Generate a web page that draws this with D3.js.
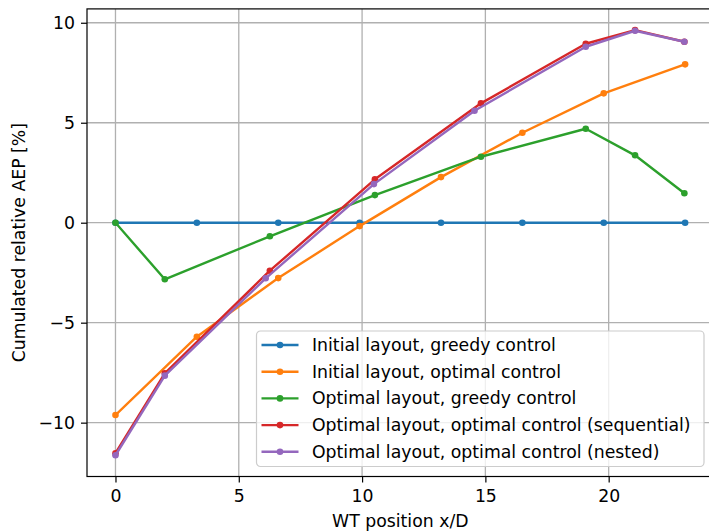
<!DOCTYPE html>
<html>
<head>
<meta charset="utf-8">
<script src="https://cdn.jsdelivr.net/npm/d3@7"></script>
<style>
  body { margin: 0; background: #fff; }
  svg { display: block; font-family: "DejaVu Sans", sans-serif; }
</style>
</head>
<body>
<div id="chart"></div>
<script>
// Series data
const xInitial = [0, 3.3, 6.6, 9.9, 13.2, 16.5, 19.8, 23.1];
const xOptimal = [0, 2.0, 6.26, 10.52, 14.82, 19.07, 21.07, 23.07];
const xNested = [0, 2.0, 6.09, 10.48, 14.56, 19.07, 21.07, 23.07];

const initialGreedy = [0, 0, 0, 0, 0, 0, 0, 0];
const initialOptimal = [-9.62, -5.7, -2.77, -0.17, 2.28, 4.5, 6.47, 7.92];
const optimalGreedy = [0, -2.83, -0.68, 1.38, 3.3, 4.7, 3.37, 1.47];
const optimalSequential = [-11.53, -7.53, -2.4, 2.17, 5.97, 8.95, 9.63, 9.05];
const optimalNested = [-11.63, -7.65, -2.78, 1.93, 5.6, 8.8, 9.6, 9.05];

const seriesLabels = [
  "Initial layout, greedy control",
  "Initial layout, optimal control",
  "Optimal layout, greedy control",
  "Optimal layout, optimal control (sequential)",
  "Optimal layout, optimal control (nested)",
];
const xTicks = [0, 5, 10, 15, 20];
const yTicks = [-10, -5, 0, 5, 10];

const COLORS = ["#1f77b4", "#ff7f0e", "#2ca02c", "#d62728", "#9467bd"];
const FONT = "17.3px";

const series = [
  { xs: xInitial, ys: initialGreedy },
  { xs: xInitial, ys: initialOptimal },
  { xs: xOptimal, ys: optimalGreedy },
  { xs: xOptimal, ys: optimalSequential },
  { xs: xNested, ys: optimalNested },
].map((s, i) => ({
  label: seriesLabels[i],
  color: COLORS[i],
  points: s.xs.map((x, j) => ({ x, y: s.ys[j] })),
}));

const width = 709;
const height = 531;
const plot = { left: 87, right: 713.6, top: 8.9, bottom: 476.5 };

// matplotlib-style 5% padding around the data
function padded(values) {
  const [lo, hi] = d3.extent(values);
  const m = (hi - lo) * 0.05;
  return [lo - m, hi + m];
}

const allPts = series.flatMap((s) => s.points);
const x = d3.scaleLinear().domain(padded(allPts.map((d) => d.x))).range([plot.left, plot.right]);
const y = d3.scaleLinear().domain(padded(allPts.map((d) => d.y))).range([plot.bottom, plot.top]);

const svg = d3.select("#chart").append("svg").attr("width", width).attr("height", height);

// Gridlines
const grid = svg.append("g").attr("stroke", "#b0b0b0").attr("stroke-width", 1.3);
xTicks.forEach((t) => {
  grid.append("line").attr("x1", x(t)).attr("x2", x(t)).attr("y1", plot.top).attr("y2", plot.bottom);
});
yTicks.forEach((t) => {
  grid.append("line").attr("x1", plot.left).attr("x2", plot.right).attr("y1", y(t)).attr("y2", y(t));
});

// Lines + markers
const line = d3.line().x((d) => x(d.x)).y((d) => y(d.y));
series.forEach((s) => {
  const g = svg.append("g");
  g.append("path")
    .datum(s.points)
    .attr("d", line)
    .attr("fill", "none")
    .attr("stroke", s.color)
    .attr("stroke-width", 2.4)
    .attr("stroke-linejoin", "round")
    .attr("stroke-linecap", "square");
  g.selectAll("circle")
    .data(s.points)
    .enter()
    .append("circle")
    .attr("cx", (d) => x(d.x))
    .attr("cy", (d) => y(d.y))
    .attr("r", 3.3)
    .attr("fill", s.color);
});

// Axes
const xAxis = svg.append("g")
  .attr("transform", `translate(0,${plot.bottom})`)
  .call(d3.axisBottom(x).tickValues(xTicks).tickSize(6).tickPadding(7).tickFormat(d3.format("d")));
const yAxis = svg.append("g")
  .attr("transform", `translate(${plot.left},0)`)
  .call(d3.axisLeft(y).tickValues(yTicks).tickSize(6).tickPadding(6)
    .tickFormat((d) => (d < 0 ? "\u2212" + Math.abs(d) : d)));

[xAxis, yAxis].forEach((a) => {
  a.select(".domain").remove();
  a.selectAll("line").attr("stroke", "#000").attr("stroke-width", 1.2);
  a.selectAll("text").attr("fill", "#000").style("font-size", FONT).style("font-family", "DejaVu Sans");
});

// Spines
svg.append("rect")
  .attr("x", plot.left)
  .attr("y", plot.top)
  .attr("width", plot.right - plot.left)
  .attr("height", plot.bottom - plot.top)
  .attr("fill", "none")
  .attr("stroke", "#000")
  .attr("stroke-width", 1.2);

// Axis titles
svg.append("text")
  .attr("x", (plot.left + plot.right) / 2)
  .attr("y", 527)
  .attr("text-anchor", "middle")
  .attr("fill", "#000")
  .style("font-size", FONT)
  .text("WT position x/D");

svg.append("text")
  .attr("transform", `translate(25,${(plot.top + plot.bottom) / 2}) rotate(-90)`)
  .attr("text-anchor", "middle")
  .attr("fill", "#000")
  .style("font-size", FONT)
  .text("Cumulated relative AEP [%]");

// Legend
const legend = svg.append("g").attr("transform", "translate(256.5,331)");
legend.append("rect")
  .attr("width", 447.5)
  .attr("height", 135.5)
  .attr("rx", 4)
  .attr("fill", "#fff")
  .attr("fill-opacity", 0.8)
  .attr("stroke", "#cccccc")
  .attr("stroke-width", 1.2);

series.forEach((s, i) => {
  const row = legend.append("g").attr("transform", `translate(0,${14 + i * 26.7})`);
  row.append("line")
    .attr("x1", 5).attr("x2", 42)
    .attr("stroke", s.color).attr("stroke-width", 2.4);
  row.append("circle").attr("cx", 23.5).attr("r", 3.3).attr("fill", s.color);
  row.append("text")
    .attr("x", 55.5)
    .attr("dy", "0.35em")
    .attr("fill", "#000")
    .style("font-size", FONT)
    .text(s.label);
});
</script>
</body>
</html>
